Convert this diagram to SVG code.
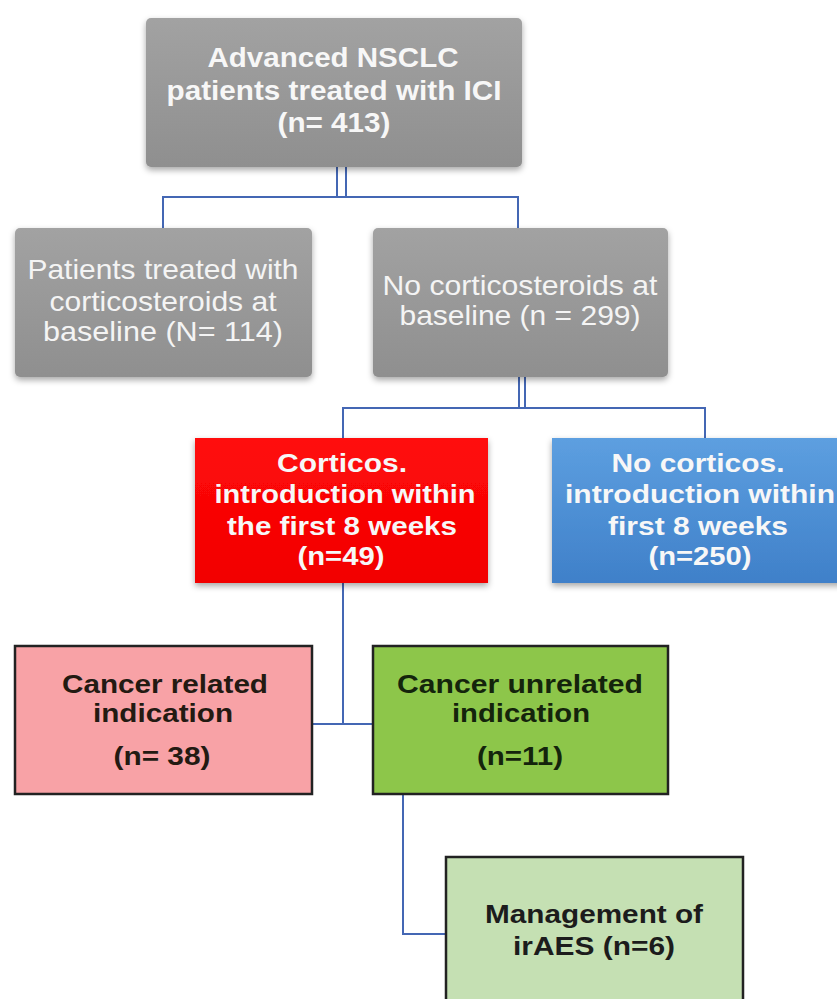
<svg xmlns="http://www.w3.org/2000/svg" width="837" height="999" viewBox="0 0 837 999">
<defs>
<linearGradient id="gGray" x1="0" y1="0" x2="0" y2="1">
<stop offset="0" stop-color="#a2a2a2"/>
<stop offset="1" stop-color="#8f8f8f"/>
</linearGradient>
<linearGradient id="gBlue" x1="0" y1="0" x2="0" y2="1">
<stop offset="0" stop-color="#5d9fe0"/>
<stop offset="1" stop-color="#3f80c9"/>
</linearGradient>
<linearGradient id="gRed" x1="0" y1="0" x2="0" y2="1">
<stop offset="0" stop-color="#ff0a0a"/>
<stop offset="1" stop-color="#f20000"/>
</linearGradient>
<filter id="sh" x="-10%" y="-10%" width="120%" height="130%">
<feDropShadow dx="0" dy="3" stdDeviation="3" flood-color="#000" flood-opacity="0.35"/>
</filter>
</defs>
<style>
.conn line, .conn polyline { stroke:#4467b4; stroke-width:2; fill:none; }
.wb { font-family:"Liberation Sans", Arial, sans-serif; font-weight:bold; fill:#f7f7f7; text-anchor:middle; }
.wr { font-family:"Liberation Sans", Arial, sans-serif; font-weight:normal; fill:#f4f4f4; text-anchor:middle; }
.db { font-family:"Liberation Sans", Arial, sans-serif; font-weight:bold; fill:#231a12; text-anchor:middle; }
.box { stroke:#222; stroke-width:2.5; }
</style>
<rect width="837" height="999" fill="#ffffff"/>

<g class="conn" id="connectors">
<line x1="337" y1="167" x2="337" y2="197"/>
<line x1="346" y1="167" x2="346" y2="197"/>
<polyline points="163,228 163,197 518,197 518,228"/>
<line x1="519" y1="377" x2="519" y2="408"/>
<line x1="525" y1="377" x2="525" y2="408"/>
<polyline points="343,438 343,408 705,408 705,438"/>
<line x1="343" y1="583" x2="343" y2="724"/>
<line x1="312" y1="724" x2="373" y2="724"/>
<polyline points="403,794 403,934 446,934"/>
</g>

<g id="n_top">
<rect x="146" y="18" width="376" height="149" rx="5" fill="url(#gGray)" filter="url(#sh)"/>
<text class="wb" font-size="27" x="333" y="67" textLength="251" lengthAdjust="spacingAndGlyphs">Advanced NSCLC</text>
<text class="wb" font-size="27" x="334" y="100" textLength="335" lengthAdjust="spacingAndGlyphs">patients treated with ICI</text>
<text class="wb" font-size="27" x="334" y="132" textLength="113" lengthAdjust="spacingAndGlyphs">(n= 413)</text>
</g>

<g id="n_cortico_baseline">
<rect x="15" y="228" width="297" height="149" rx="5" fill="url(#gGray)" filter="url(#sh)"/>
<text class="wr" font-size="28" x="163" y="279" textLength="271" lengthAdjust="spacingAndGlyphs">Patients treated with</text>
<text class="wr" font-size="28" x="163" y="311" textLength="227" lengthAdjust="spacingAndGlyphs">corticosteroids at</text>
<text class="wr" font-size="28" x="163" y="341" textLength="240" lengthAdjust="spacingAndGlyphs">baseline (N= 114)</text>
</g>

<g id="n_no_cortico_baseline">
<rect x="373" y="228" width="295" height="149" rx="5" fill="url(#gGray)" filter="url(#sh)"/>
<text class="wr" font-size="28" x="520" y="295" textLength="275" lengthAdjust="spacingAndGlyphs">No corticosteroids at</text>
<text class="wr" font-size="28" x="520" y="325" textLength="241" lengthAdjust="spacingAndGlyphs">baseline (n = 299)</text>
</g>

<g id="n_cortico_intro">
<rect x="195" y="438" width="293" height="145" fill="url(#gRed)" filter="url(#sh)"/>
<text class="wb" font-size="26" x="342" y="472" textLength="130" lengthAdjust="spacingAndGlyphs">Corticos.</text>
<text class="wb" font-size="26" x="345" y="503" textLength="261" lengthAdjust="spacingAndGlyphs">introduction within</text>
<text class="wb" font-size="26" x="342" y="535" textLength="230" lengthAdjust="spacingAndGlyphs">the first 8 weeks</text>
<text class="wb" font-size="26" x="341" y="565" textLength="87" lengthAdjust="spacingAndGlyphs">(n=49)</text>
</g>

<g id="n_no_cortico_intro">
<rect x="552" y="438" width="300" height="145" fill="url(#gBlue)" filter="url(#sh)"/>
<text class="wb" font-size="26" x="698" y="472" textLength="173" lengthAdjust="spacingAndGlyphs">No corticos.</text>
<text class="wb" font-size="26" x="700" y="503" textLength="270" lengthAdjust="spacingAndGlyphs">introduction within</text>
<text class="wb" font-size="26" x="698" y="535" textLength="180" lengthAdjust="spacingAndGlyphs">first 8 weeks</text>
<text class="wb" font-size="26" x="700" y="565" textLength="103" lengthAdjust="spacingAndGlyphs">(n=250)</text>
</g>

<g id="n_cancer_related">
<rect class="box" x="15" y="646" width="297" height="148" fill="#f8a2a6"/>
<text class="db" font-size="26" x="165" y="693" textLength="206" lengthAdjust="spacingAndGlyphs">Cancer related</text>
<text class="db" font-size="26" x="163" y="722" textLength="140" lengthAdjust="spacingAndGlyphs">indication</text>
<text class="db" font-size="26" x="162" y="765" textLength="97" lengthAdjust="spacingAndGlyphs">(n= 38)</text>
</g>

<g id="n_cancer_unrelated">
<rect class="box" x="373" y="646" width="295" height="148" fill="#8dc64a"/>
<text class="db" font-size="26" x="520" y="693" textLength="246" lengthAdjust="spacingAndGlyphs" style="fill:#14240c">Cancer unrelated</text>
<text class="db" font-size="26" x="521" y="722" textLength="138" lengthAdjust="spacingAndGlyphs" style="fill:#14240c">indication</text>
<text class="db" font-size="26" x="520" y="765" textLength="86" lengthAdjust="spacingAndGlyphs" style="fill:#14240c">(n=11)</text>
</g>

<g id="n_iraes">
<rect class="box" x="446" y="857" width="297" height="160" fill="#c5e0b3"/>
<text class="db" font-size="26" x="594" y="923" textLength="218" lengthAdjust="spacingAndGlyphs" style="fill:#1c1c1c">Management of</text>
<text class="db" font-size="26" x="594" y="955" textLength="162" lengthAdjust="spacingAndGlyphs" style="fill:#1c1c1c">irAES (n=6)</text>
</g>
</svg>
